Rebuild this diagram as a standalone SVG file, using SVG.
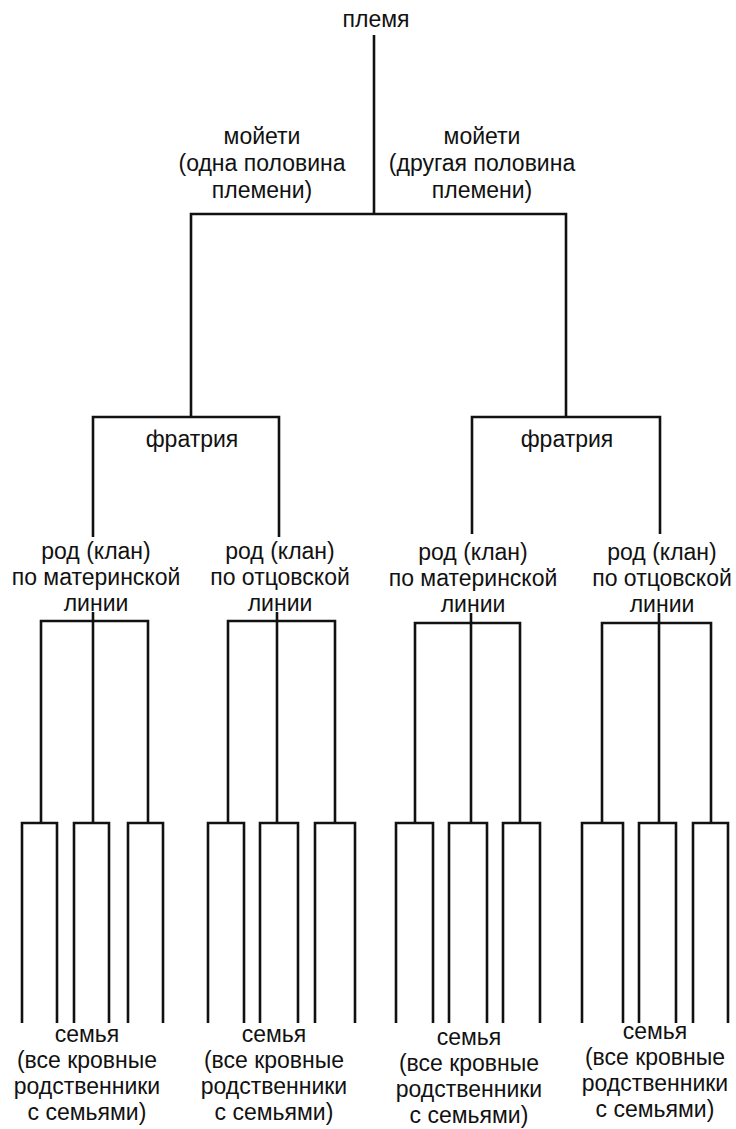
<svg xmlns="http://www.w3.org/2000/svg" width="736" height="1129" viewBox="0 0 736 1129">
<style>
  text { font-family: "Liberation Sans", Arial, sans-serif; font-size: 23px; fill: #111; text-anchor: middle; }
  .c { fill: none; stroke: #111; stroke-width: 2.6; stroke-linejoin: miter; stroke-linecap: butt; }
</style>
<rect width="736" height="1129" fill="#fff"/>
<g id="connectors">
  <path class="c" d="M374 35 V214"/>
  <path class="c" d="M191 417 V214 H566 V417"/>
  <path class="c" d="M93 537 V417 H279 V537"/>
  <path class="c" d="M472 534 V417 H660 V534"/>
  <!-- clan level group 1 -->
  <path class="c" d="M41 823 V621 H148 V823"/>
  <path class="c" d="M93 612 V823"/>
  <path class="c" d="M22 1023 V823 H57 V1023"/>
  <path class="c" d="M74 1023 V823 H109 V1023"/>
  <path class="c" d="M128 1023 V823 H163 V1023"/>
  <!-- group 2 -->
  <path class="c" d="M228 823 V621 H335 V823"/>
  <path class="c" d="M277 612 V823"/>
  <path class="c" d="M208 1023 V823 H244 V1023"/>
  <path class="c" d="M260 1023 V823 H298 V1023"/>
  <path class="c" d="M315 1023 V823 H355 V1023"/>
  <!-- group 3 -->
  <path class="c" d="M415 823 V623 H520 V823"/>
  <path class="c" d="M471 613 V823"/>
  <path class="c" d="M396 1023 V823 H433 V1023"/>
  <path class="c" d="M449 1023 V823 H487 V1023"/>
  <path class="c" d="M503 1023 V823 H540 V1023"/>
  <!-- group 4 -->
  <path class="c" d="M602 823 V623 H711 V823"/>
  <path class="c" d="M659 613 V823"/>
  <path class="c" d="M582 1023 V823 H623 V1023"/>
  <path class="c" d="M639 1023 V823 H676 V1023"/>
  <path class="c" d="M693 1023 V823 H728 V1023"/>
</g>
<g id="tribe"><text x="376" y="27">племя</text></g>
<g id="moiety-left">
  <text x="262" y="144">мойети</text>
  <text x="262" y="171">(одна половина</text>
  <text x="262" y="198">племени)</text>
</g>
<g id="moiety-right">
  <text x="482" y="144">мойети</text>
  <text x="482" y="171">(другая половина</text>
  <text x="482" y="198">племени)</text>
</g>
<g id="phratry-left"><text x="192" y="447">фратрия</text></g>
<g id="phratry-right"><text x="567" y="447">фратрия</text></g>
<g id="clan-1">
  <text x="96" y="559">род (клан)</text>
  <text x="96" y="585">по материнской</text>
  <text x="96" y="611">линии</text>
</g>
<g id="clan-2">
  <text x="280" y="559">род (клан)</text>
  <text x="280" y="585">по отцовской</text>
  <text x="280" y="611">линии</text>
</g>
<g id="clan-3">
  <text x="473" y="560">род (клан)</text>
  <text x="473" y="586">по материнской</text>
  <text x="473" y="612">линии</text>
</g>
<g id="clan-4">
  <text x="662" y="560">род (клан)</text>
  <text x="662" y="586">по отцовской</text>
  <text x="662" y="612">линии</text>
</g>
<g id="family-1">
  <text x="87" y="1042">семья</text>
  <text x="87" y="1068">(все кровные</text>
  <text x="87" y="1094">родственники</text>
  <text x="87" y="1120">с семьями)</text>
</g>
<g id="family-2">
  <text x="274" y="1042">семья</text>
  <text x="274" y="1068">(все кровные</text>
  <text x="274" y="1094">родственники</text>
  <text x="274" y="1120">с семьями)</text>
</g>
<g id="family-3">
  <text x="469" y="1045">семья</text>
  <text x="469" y="1071">(все кровные</text>
  <text x="469" y="1097">родственники</text>
  <text x="469" y="1123">с семьями)</text>
</g>
<g id="family-4">
  <text x="655" y="1039">семья</text>
  <text x="655" y="1065">(все кровные</text>
  <text x="655" y="1091">родственники</text>
  <text x="655" y="1117">с семьями)</text>
</g>
</svg>
